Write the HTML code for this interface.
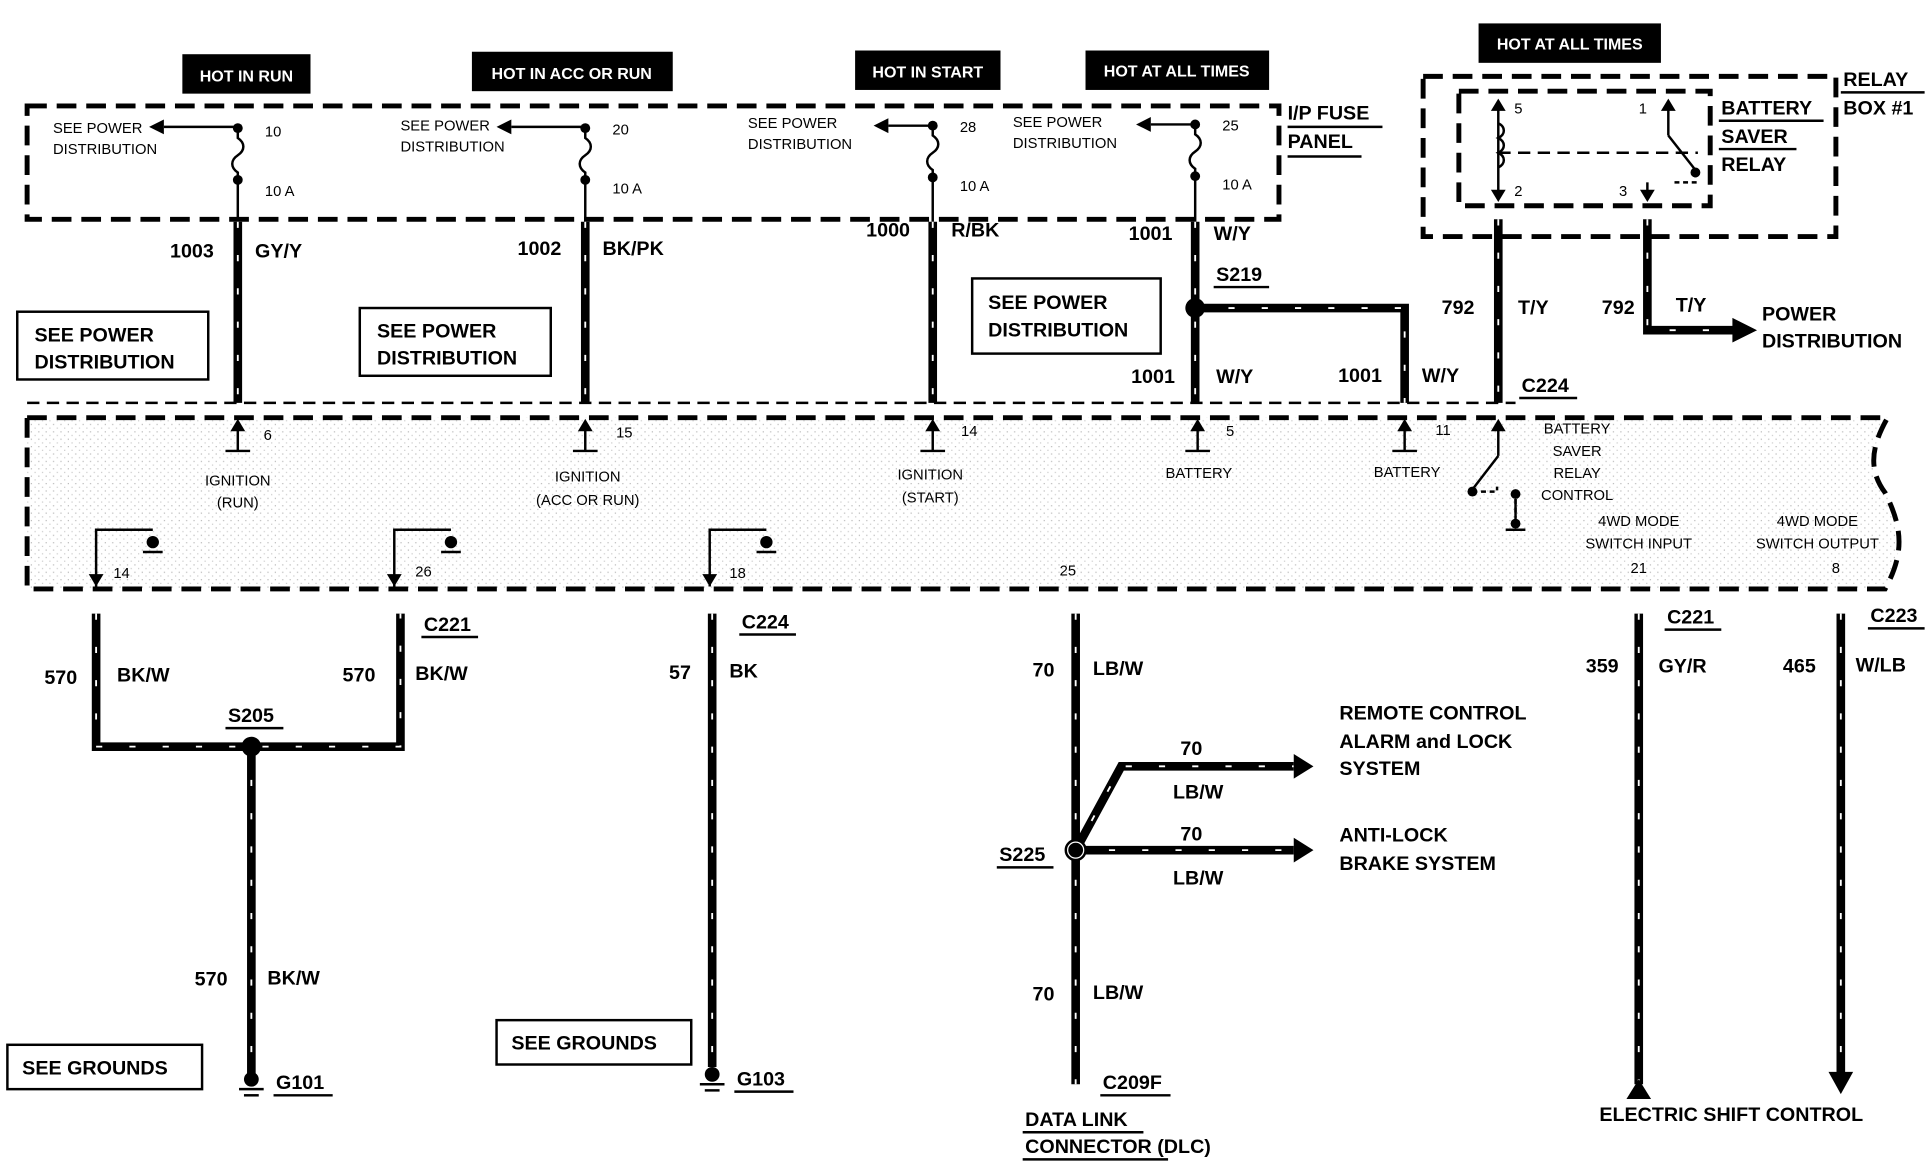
<!DOCTYPE html>
<html><head><meta charset="utf-8"><style>
html,body{margin:0;padding:0;background:#fff;}
svg{display:block;}
text{font-family:"Liberation Sans",Arial,sans-serif;font-weight:bold;fill:#000;}
.s{font-size:12px;font-weight:normal;}
.m{font-size:16px;}
.w{stroke:#000;stroke-width:7;fill:none;}
.wd{stroke:#fff;stroke-width:1.5;stroke-dasharray:5 22;fill:none;}
.d{stroke:#000;stroke-width:4;stroke-dasharray:16 8;fill:none;}
.t{stroke:#000;stroke-width:2;fill:none;}
</style></head><body>
<svg width="1932" height="1168" viewBox="0 0 1568 948" preserveAspectRatio="none" xmlns="http://www.w3.org/2000/svg">
<defs>
<pattern id="dots" width="6" height="6" patternUnits="userSpaceOnUse"><rect width="6" height="6" fill="#fff"/><rect x="1" y="2" width="1" height="1" fill="#bbb"/><rect x="4" y="5" width="1" height="1" fill="#ccc"/></pattern>
</defs>
<rect x="148" y="44" width="104" height="32" fill="#000"/><text x="200" y="66" text-anchor="middle" font-size="13" style="fill:#fff">HOT IN RUN</text>
<rect x="383" y="42" width="163" height="32" fill="#000"/><text x="464" y="64" text-anchor="middle" font-size="13" style="fill:#fff">HOT IN ACC OR RUN</text>
<rect x="694" y="41" width="118" height="32" fill="#000"/><text x="753" y="63" text-anchor="middle" font-size="13" style="fill:#fff">HOT IN START</text>
<rect x="881" y="41" width="149" height="32" fill="#000"/><text x="955" y="62" text-anchor="middle" font-size="13" style="fill:#fff">HOT AT ALL TIMES</text>
<rect x="1200" y="19" width="148" height="32" fill="#000"/><text x="1274" y="40" text-anchor="middle" font-size="13" style="fill:#fff">HOT AT ALL TIMES</text>
<rect x="22" y="86" width="1016" height="92" class="d"/>
<text x="1045" y="97" class="m">I/P FUSE</text><line x1="1045" y1="103" x2="1122" y2="103" class="t" stroke-width="1"/>
<text x="1045" y="120" class="m">PANEL</text><line x1="1045" y1="127" x2="1105" y2="127" class="t" stroke-width="1"/>
<g>
<g transform="translate(193,0)">
<line x1="0" y1="103" x2="-60" y2="103" class="t"/><polygon points="-72,103 -60,97 -60,109"/><circle cx="0" cy="104" r="4"/>
<path d="M0,104 v8 c6,4 6,10 0,14 c-6,4 -6,10 0,14 v5" class="t"/><circle cx="0" cy="146" r="4"/>
<line x1="0" y1="146" x2="0" y2="180" class="t" stroke-width="4"/>
<text x="-150" y="108" class="s">SEE POWER</text><text x="-150" y="125" class="s">DISTRIBUTION</text>
<text x="22" y="111" class="s">10</text><text x="22" y="159" class="s">10 A</text></g>
<g transform="translate(475,0)">
<line x1="0" y1="103" x2="-60" y2="103" class="t"/><polygon points="-72,103 -60,97 -60,109"/><circle cx="0" cy="104" r="4"/>
<path d="M0,104 v8 c6,4 6,10 0,14 c-6,4 -6,10 0,14 v5" class="t"/><circle cx="0" cy="146" r="4"/>
<line x1="0" y1="146" x2="0" y2="180" class="t" stroke-width="4"/>
<text x="-150" y="106" class="s">SEE POWER</text><text x="-150" y="123" class="s">DISTRIBUTION</text>
<text x="22" y="109" class="s">20</text><text x="22" y="157" class="s">10 A</text></g>
<g transform="translate(757,0)">
<line x1="0" y1="102" x2="-36" y2="102" class="t"/><polygon points="-48,102 -36,96 -36,108"/><circle cx="0" cy="102" r="4"/>
<path d="M0,102 v8 c6,4 6,10 0,14 c-6,4 -6,10 0,14 v5" class="t"/><circle cx="0" cy="144" r="4"/>
<line x1="0" y1="144" x2="0" y2="180" class="t" stroke-width="4"/>
<text x="-150" y="104" class="s">SEE POWER</text><text x="-150" y="121" class="s">DISTRIBUTION</text>
<text x="22" y="107" class="s">28</text><text x="22" y="155" class="s">10 A</text></g>
<g transform="translate(970,0)">
<line x1="0" y1="101" x2="-36" y2="101" class="t"/><polygon points="-48,101 -36,95 -36,107"/><circle cx="0" cy="101" r="4"/>
<path d="M0,101 v8 c6,4 6,10 0,14 c-6,4 -6,10 0,14 v5" class="t"/><circle cx="0" cy="143" r="4"/>
<line x1="0" y1="143" x2="0" y2="180" class="t" stroke-width="4"/>
<text x="-148" y="103" class="s">SEE POWER</text><text x="-148" y="120" class="s">DISTRIBUTION</text>
<text x="22" y="106" class="s">25</text><text x="22" y="154" class="s">10 A</text></g>
</g>
<rect x="1155" y="62" width="335" height="130" class="d"/>
<rect x="1184" y="74" width="204" height="93" class="d" stroke-width="3"/>
<text x="1496" y="70" class="m">RELAY</text><line x1="1494" y1="75" x2="1562" y2="75" class="t" stroke-width="1"/>
<text x="1496" y="93" class="m">BOX #1</text>
<text x="1397" y="93" class="m">BATTERY</text><text x="1397" y="116" class="m">SAVER</text><text x="1397" y="139" class="m">RELAY</text>
<line x1="1395" y1="98" x2="1480" y2="98" class="t" stroke-width="1"/><line x1="1395" y1="121" x2="1458" y2="121" class="t" stroke-width="1"/>
<line x1="1216" y1="82" x2="1216" y2="160" class="t"/><polygon points="1216,80 1210,90 1222,90"/><polygon points="1216,164 1210,154 1222,154"/>
<path d="M1216,100 c6,3 6,9 0,12 c6,3 6,9 0,12 c6,3 6,9 0,12" class="t"/>
<line x1="1216" y1="124" x2="1378" y2="124" class="t" stroke-dasharray="10 6"/>
<text x="1229" y="92" class="s">5</text><text x="1229" y="159" class="s">2</text><text x="1330" y="92" class="s">1</text><text x="1314" y="159" class="s">3</text>
<line x1="1354" y1="86" x2="1354" y2="110" class="t"/><polygon points="1354,80 1348,90 1360,90"/>
<line x1="1354" y1="110" x2="1376" y2="138" class="t"/><circle cx="1376" cy="140" r="4"/>
<path d="M1376,140 v8 h-20" class="t" stroke-dasharray="4 3"/><line x1="1337" y1="148" x2="1337" y2="160" class="t"/><polygon points="1337,164 1331,154 1343,154"/>
<g>
<path d="M193,180 V327 M475,180 V327 M757,180 V327 M970,180 V327 M970,250 H1140 V327 M1216,178 V327 M1337,178 V268 H1410" class="w"/>
<path d="M193,180 V327 M475,180 V327 M757,180 V327 M970,180 V327 M970,250 H1140 V327 M1216,178 V327 M1337,178 V268 H1410" class="wd"/>
</g>
<polygon points="1406,258 1426,268 1406,278"/>
<circle cx="970" cy="250" r="8"/>
<text x="138" y="209" class="m">1003</text><text x="207" y="209" class="m">GY/Y</text>
<text x="420" y="207" class="m">1002</text><text x="489" y="207" class="m">BK/PK</text>
<text x="703" y="192" class="m">1000</text><text x="772" y="192" class="m">R/BK</text>
<text x="916" y="195" class="m">1001</text><text x="985" y="195" class="m">W/Y</text>
<text x="987" y="228" class="m">S219</text><line x1="985" y1="233" x2="1030" y2="233" class="t" stroke-width="1"/>
<text x="918" y="311" class="m">1001</text><text x="987" y="311" class="m">W/Y</text>
<text x="1086" y="310" class="m">1001</text><text x="1154" y="310" class="m">W/Y</text>
<text x="1170" y="255" class="m">792</text><text x="1232" y="255" class="m">T/Y</text>
<text x="1300" y="255" class="m">792</text><text x="1360" y="253" class="m">T/Y</text>
<text x="1430" y="260" class="m">POWER</text><text x="1430" y="282" class="m">DISTRIBUTION</text>
<text x="1235" y="318" class="m">C224</text><line x1="1233" y1="323" x2="1280" y2="323" class="t" stroke-width="1"/>
<rect x="14" y="253" width="155" height="55" fill="none" class="t" stroke-width="1.5"/>
<text x="28" y="277" class="m">SEE POWER</text><text x="28" y="299" class="m">DISTRIBUTION</text>
<rect x="292" y="250" width="155" height="55" fill="none" class="t" stroke-width="1.5"/>
<text x="306" y="274" class="m">SEE POWER</text><text x="306" y="296" class="m">DISTRIBUTION</text>
<rect x="789" y="226" width="153" height="61" fill="none" class="t" stroke-width="1.5"/>
<text x="802" y="251" class="m">SEE POWER</text><text x="802" y="273" class="m">DISTRIBUTION</text>
<path d="M22,339 H1532 C1520,360 1515,380 1530,400 C1545,430 1545,450 1530,478 H22 Z" fill="url(#dots)"/>
<path d="M22,339 H1532 C1520,360 1515,380 1530,400 C1545,430 1545,450 1530,478 H22 Z" class="d"/>
<line x1="22" y1="327" x2="1230" y2="327" class="t" stroke-dasharray="10 6" stroke-width="1.5"/>
<g>
<line x1="193" y1="342" x2="193" y2="366" class="t"/><polygon points="193,340 187,350 199,350"/><line x1="183" y1="366" x2="203" y2="366" class="t"/>
<text x="214" y="357" class="s">6</text><text x="193" y="394" text-anchor="middle" class="s">IGNITION</text><text x="193" y="412" text-anchor="middle" class="s">(RUN)</text>
<line x1="475" y1="342" x2="475" y2="366" class="t"/><polygon points="475,340 469,350 481,350"/><line x1="465" y1="366" x2="485" y2="366" class="t"/>
<text x="500" y="355" class="s">15</text><text x="477" y="391" text-anchor="middle" class="s">IGNITION</text><text x="477" y="410" text-anchor="middle" class="s">(ACC OR RUN)</text>
<line x1="757" y1="342" x2="757" y2="366" class="t"/><polygon points="757,340 751,350 763,350"/><line x1="747" y1="366" x2="767" y2="366" class="t"/>
<text x="780" y="354" class="s">14</text><text x="755" y="389" text-anchor="middle" class="s">IGNITION</text><text x="755" y="408" text-anchor="middle" class="s">(START)</text>
<line x1="972" y1="342" x2="972" y2="366" class="t"/><polygon points="972,340 966,350 978,350"/><line x1="962" y1="366" x2="982" y2="366" class="t"/>
<text x="995" y="354" class="s">5</text><text x="973" y="388" text-anchor="middle" class="s">BATTERY</text>
<line x1="1140" y1="342" x2="1140" y2="366" class="t"/><polygon points="1140,340 1134,350 1146,350"/><line x1="1130" y1="366" x2="1150" y2="366" class="t"/>
<text x="1165" y="353" class="s">11</text><text x="1142" y="387" text-anchor="middle" class="s">BATTERY</text>
<line x1="1216" y1="342" x2="1216" y2="370" class="t"/><polygon points="1216,340 1210,350 1222,350"/>
<line x1="1216" y1="370" x2="1196" y2="396" class="t"/><circle cx="1195" cy="399" r="4"/>
<path d="M1195,399 h20 v-4 M1230,398 v22" class="t" stroke-dasharray="4 3"/><circle cx="1230" cy="401" r="4"/>
<line x1="1230" y1="405" x2="1230" y2="425" class="t"/><circle cx="1230" cy="425" r="4"/><line x1="1222" y1="430" x2="1238" y2="430" class="t"/>
<text x="1280" y="352" text-anchor="middle" class="s">BATTERY</text><text x="1280" y="370" text-anchor="middle" class="s">SAVER</text><text x="1280" y="388" text-anchor="middle" class="s">RELAY</text><text x="1280" y="406" text-anchor="middle" class="s">CONTROL</text>
<text x="1330" y="427" text-anchor="middle" class="s">4WD MODE</text><text x="1330" y="445" text-anchor="middle" class="s">SWITCH INPUT</text><text x="1330" y="465" text-anchor="middle" class="s">21</text>
<text x="1475" y="427" text-anchor="middle" class="s">4WD MODE</text><text x="1475" y="445" text-anchor="middle" class="s">SWITCH OUTPUT</text><text x="1490" y="465" text-anchor="middle" class="s">8</text>
<text x="860" y="467" class="s">25</text>
<path d="M78,476 V430 H124" class="t"/><polygon points="72,466 78,476 84,466"/><circle cx="124" cy="440" r="5"/><line x1="116" y1="448" x2="132" y2="448" class="t"/><text x="92" y="469" class="s">14</text>
<path d="M320,476 V430 H366" class="t"/><polygon points="314,466 320,476 326,466"/><circle cx="366" cy="440" r="5"/><line x1="358" y1="448" x2="374" y2="448" class="t"/><text x="337" y="468" class="s">26</text>
<path d="M576,476 V430 H622" class="t"/><polygon points="570,466 576,476 582,466"/><circle cx="622" cy="440" r="5"/><line x1="614" y1="448" x2="630" y2="448" class="t"/><text x="592" y="469" class="s">18</text>
</g>
<g>
<path d="M78,498 V606 H325 V498 M204,606 V872 M578,498 V866 M873,498 V880 M873,690 H1050 M873,690 L910,622 H1050 M1330,498 V880 M1494,498 V872" class="w"/>
<path d="M78,498 V606 H325 V498 M204,606 V872 M578,498 V866 M873,498 V880 M873,690 H1050 M873,690 L910,622 H1050 M1330,498 V880 M1494,498 V872" class="wd"/>
</g>
<circle cx="204" cy="606" r="8"/><circle cx="873" cy="690" r="8" fill="#fff" stroke="#000" stroke-width="2"/><circle cx="873" cy="690" r="6"/>
<polygon points="1050,612 1066,622 1050,632"/><polygon points="1050,680 1066,690 1050,700"/>
<polygon points="1330,876 1320,892 1340,892"/><polygon points="1484,870 1504,870 1494,888"/>
<text x="344" y="512" class="m">C221</text><line x1="342" y1="517" x2="388" y2="517" class="t" stroke-width="1"/>
<text x="602" y="510" class="m">C224</text><line x1="600" y1="515" x2="646" y2="515" class="t" stroke-width="1"/>
<text x="1353" y="506" class="m">C221</text><line x1="1351" y1="511" x2="1397" y2="511" class="t" stroke-width="1"/>
<text x="1518" y="505" class="m">C223</text><line x1="1516" y1="510" x2="1562" y2="510" class="t" stroke-width="1"/>
<text x="36" y="555" class="m">570</text><text x="95" y="553" class="m">BK/W</text>
<text x="278" y="553" class="m">570</text><text x="337" y="552" class="m">BK/W</text>
<text x="185" y="586" class="m">S205</text><line x1="183" y1="591" x2="230" y2="591" class="t" stroke-width="1"/>
<text x="543" y="551" class="m">57</text><text x="592" y="550" class="m">BK</text>
<text x="838" y="549" class="m">70</text><text x="887" y="548" class="m">LB/W</text>
<text x="1287" y="546" class="m">359</text><text x="1346" y="546" class="m">GY/R</text>
<text x="1447" y="546" class="m">465</text><text x="1506" y="545" class="m">W/LB</text>
<text x="958" y="613" class="m">70</text><text x="952" y="648" class="m">LB/W</text>
<text x="958" y="682" class="m">70</text><text x="952" y="718" class="m">LB/W</text>
<text x="1087" y="584" class="m">REMOTE CONTROL</text><text x="1087" y="607" class="m">ALARM and LOCK</text><text x="1087" y="629" class="m">SYSTEM</text>
<text x="1087" y="683" class="m">ANTI-LOCK</text><text x="1087" y="706" class="m">BRAKE SYSTEM</text>
<text x="811" y="699" class="m">S225</text><line x1="809" y1="704" x2="855" y2="704" class="t" stroke-width="1"/>
<text x="838" y="812" class="m">70</text><text x="887" y="811" class="m">LB/W</text>
<text x="158" y="800" class="m">570</text><text x="217" y="799" class="m">BK/W</text>
<rect x="6" y="848" width="158" height="36" fill="none" class="t" stroke-width="1.5"/><text x="18" y="872" class="m">SEE GROUNDS</text>
<rect x="403" y="828" width="158" height="36" fill="none" class="t" stroke-width="1.5"/><text x="415" y="852" class="m">SEE GROUNDS</text>
<circle cx="204" cy="876" r="6"/><line x1="194" y1="884" x2="214" y2="884" class="t"/><line x1="198" y1="889" x2="210" y2="889" class="t"/>
<text x="224" y="884" class="m">G101</text><line x1="222" y1="889" x2="270" y2="889" class="t" stroke-width="1"/>
<circle cx="578" cy="872" r="6"/><line x1="568" y1="880" x2="588" y2="880" class="t"/><line x1="572" y1="885" x2="584" y2="885" class="t"/>
<text x="598" y="881" class="m">G103</text><line x1="596" y1="886" x2="644" y2="886" class="t" stroke-width="1"/>
<text x="895" y="884" class="m">C209F</text><line x1="893" y1="889" x2="950" y2="889" class="t" stroke-width="1"/>
<text x="832" y="914" class="m">DATA LINK</text><line x1="830" y1="919" x2="928" y2="919" class="t" stroke-width="1"/>
<text x="832" y="936" class="m">CONNECTOR (DLC)</text><line x1="830" y1="941" x2="948" y2="941" class="t" stroke-width="1"/>
<text x="1298" y="910" class="m">ELECTRIC SHIFT CONTROL</text>
</svg>
</body></html>
